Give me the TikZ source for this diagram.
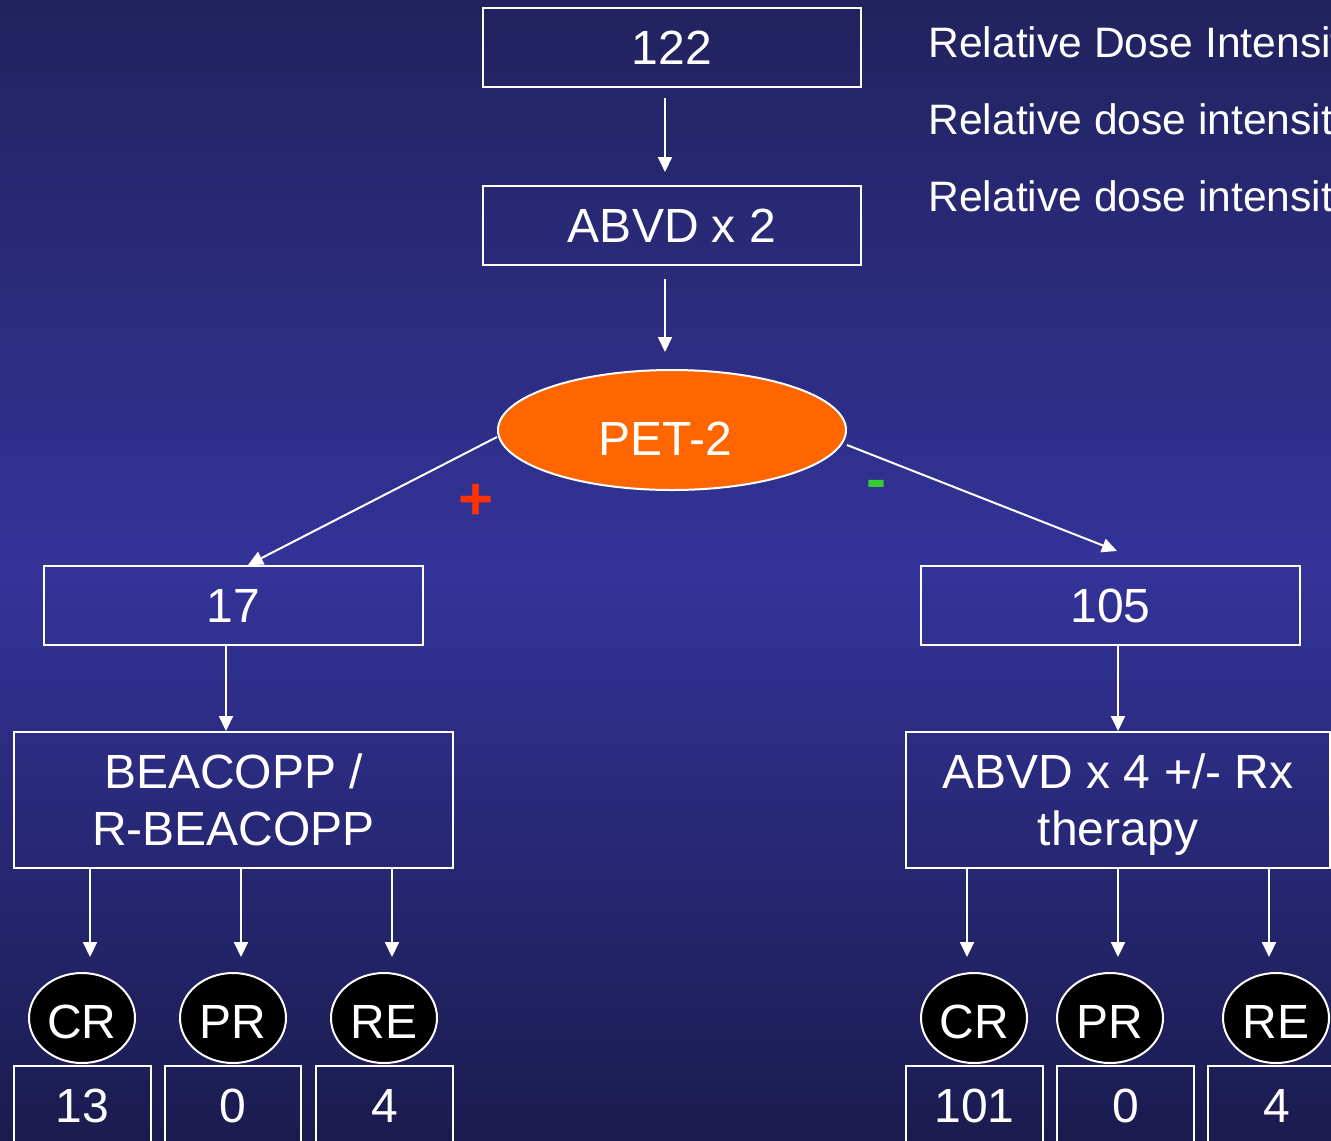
\documentclass[tikz,border=0pt]{standalone}
\usepackage{fontspec}
\setmainfont{Liberation Sans}
\usetikzlibrary{arrows.meta,shapes.geometric}
\definecolor{bgtop}{HTML}{22225E}
\definecolor{bgmid}{HTML}{333399}
\definecolor{bgbot}{HTML}{1B1B4F}
\definecolor{petorange}{HTML}{FF6600}
\definecolor{plusred}{HTML}{FF3300}
\definecolor{minusgreen}{HTML}{33CC33}
\begin{document}
\begin{tikzpicture}[x=0.5pt,y=-0.5pt,
  box/.style={draw=white,line width=1pt,inner sep=0pt,text=white,font=\fontsize{24}{28.5}\selectfont,align=center},
  oval/.style={ellipse,draw=white,line width=1pt,fill=black,inner sep=0pt,text=white,minimum width=53pt,minimum height=45pt,font=\fontsize{24}{28}\selectfont,text height=20.7pt,text depth=0pt},
  arr/.style={draw=white,line width=1pt,-{Triangle[length=7.5pt,width=7pt]}},
  side/.style={anchor=base west,inner sep=0pt,text=white,font=\fontsize{21.3}{25}\selectfont}]
\useasboundingbox (0,0) rectangle (1331,1140);
\fill[bgtop] (0,0) rectangle (1331,1140);
\shade[top color=bgtop,bottom color=bgmid] (0,0) rectangle (1331,571);
\shade[top color=bgmid,bottom color=bgbot] (0,570) rectangle (1331,1140);
\clip (0,0) rectangle (1331,1140);

% side texts
\node[side] (t1) at (928,57) {Relative Dose Intensity};
\node[side] (t2) at (928,134) {Relative dose intensity};
\node[side] (t3) at (928,211) {Relative dose intensity};

% main boxes
\node[box,minimum width=189pt,minimum height=39.5pt] (b122) at (672,47.5) {122};
\node[box,minimum width=189pt,minimum height=39.5pt] (abvd2) at (672,225.5) {ABVD x 2};
\node[ellipse,draw=white,line width=1pt,fill=petorange,inner sep=0pt,text=white,
      minimum width=174pt,minimum height=60pt,font=\fontsize{24}{28.5}\selectfont,
      text height=25.2pt,text depth=0pt] (pet) at (672,430) {\hspace*{-7pt}PET-2};
\node[box,minimum width=189.5pt,minimum height=39.5pt] (b17) at (233.5,605.5) {17};
\node[box,minimum width=189.5pt,minimum height=39.5pt] (b105) at (1110.5,605.5) {105};
\node[box,minimum width=219.5pt,minimum height=68pt] (beac) at (233.5,800) {BEACOPP /\\R-BEACOPP};
\node[box,minimum width=212pt,minimum height=68pt] (abvd4) at (1118,800) {ABVD x 4 +/- Rx\\\smash{therapy}};

% signs
\node[text=plusred,font=\fontsize{30}{30}\selectfont\bfseries,inner sep=0pt] (plus) at (476,502) {+};
\node[text=minusgreen,font=\fontsize{30}{30}\selectfont\bfseries,inner sep=0pt] (minus) at (876,490) {-};

% outcome ovals
\node[oval] (cr1) at (82,1018) {CR};
\node[oval] (pr1) at (233,1018) {PR};
\node[oval] (re1) at (384,1018) {RE};
\node[oval] (cr2) at (974,1018) {CR};
\node[oval] (pr2) at (1110,1018) {PR};
\node[oval] (re2) at (1276,1018) {RE};

% value boxes
\node[box,minimum width=68.5pt,minimum height=40pt] (v1) at (82.5,1106) {13};
\node[box,minimum width=68pt,minimum height=40pt] (v2) at (233,1106) {0};
\node[box,minimum width=68.5pt,minimum height=40pt] (v3) at (384.5,1106) {4};
\node[box,minimum width=68.5pt,minimum height=40pt] (v4) at (974.5,1106) {101};
\node[box,minimum width=68.5pt,minimum height=40pt] (v5) at (1125.5,1106) {0};
\node[box,minimum width=68.5pt,minimum height=40pt] (v6) at (1276.5,1106) {4};

% arrow columns
\coordinate (xa) at (90,0);
\coordinate (xb) at (241,0);
\coordinate (xc) at (392,0);
\coordinate (xd) at (967,0);
\coordinate (xe) at (1118,0);
\coordinate (xf) at (1269,0);

% connectors
\draw[arr,shorten <=5pt,shorten >=6.5pt] ([xshift=-3.5pt]b122.south) -- ([xshift=-3.5pt]abvd2.north);
\draw[arr,shorten <=6.5pt,shorten >=8.5pt] ([xshift=-3.5pt]abvd2.south) -- ([xshift=-3.5pt]pet.north);
\draw[arr] ([yshift=-3.5pt]pet.west) -- ([xshift=7.25pt]b17.north);
\draw[arr] ([yshift=-7.5pt]pet.east) -- ([xshift=3.25pt,yshift=7pt]b105.north);
\draw[arr] ([xshift=-3.75pt]b17.south) -- ([xshift=-3.75pt]beac.north);
\draw[arr] ([xshift=3.75pt]b105.south) -- (abvd4.north);
\draw[arr,shorten >=7.5pt] (beac.south -| xa) -- (cr1.north -| xa);
\draw[arr,shorten >=7.5pt] (beac.south -| xb) -- (pr1.north -| xb);
\draw[arr,shorten >=7.5pt] (beac.south -| xc) -- (re1.north -| xc);
\draw[arr,shorten >=7.5pt] (abvd4.south -| xd) -- (cr2.north -| xd);
\draw[arr,shorten >=7.5pt] (abvd4.south -| xe) -- (pr2.north -| xe);
\draw[arr,shorten >=7.5pt] (abvd4.south -| xf) -- (re2.north -| xf);
\end{tikzpicture}
\end{document}
